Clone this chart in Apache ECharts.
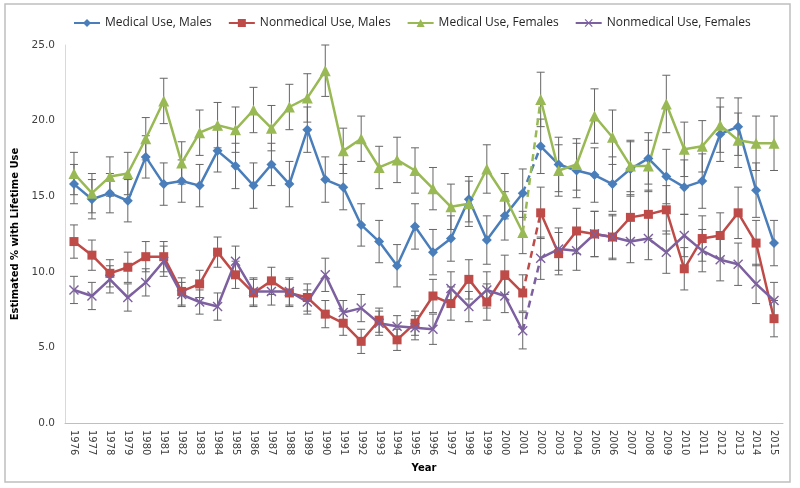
<!DOCTYPE html>
<html>
<head>
<meta charset="utf-8">
<script src="https://cdn.jsdelivr.net/npm/echarts@6/dist/echarts.min.js"></script>
<style>
html,body{margin:0;padding:0;background:#fff;}
#block1{width:800px;height:488px;}
</style>
</head>
<body>
<div id="block1"></div>
<script>
//categories
var years = ['1976','1977','1978','1979','1980','1981','1982','1983','1984','1985',
  '1986','1987','1988','1989','1990','1991','1992','1993','1994','1995',
  '1996','1997','1998','1999','2000','2001','2002','2003','2004','2005',
  '2006','2007','2008','2009','2010','2011','2012','2013','2014','2015'];

//values
var medMales = [15.8,14.8,15.2,14.7,17.6,15.8,16.0,15.7,18.0,17.0,
  15.7,17.1,15.8,19.4,16.1,15.6,13.1,12.0,10.4,13.0,
  11.3,12.2,14.8,12.1,13.7,15.2,18.3,17.1,16.7,16.4,
  15.8,16.8,17.5,16.3,15.6,16.0,19.1,19.6,15.4,11.9];
var nonMedMales = [12.0,11.1,9.9,10.3,11.0,11.0,8.7,9.2,11.3,9.8,
  8.6,9.4,8.6,8.3,7.2,6.6,5.4,6.8,5.5,6.6,
  8.4,7.9,9.5,8.0,9.8,8.6,13.9,11.2,12.7,12.5,
  12.3,13.6,13.8,14.1,10.2,12.2,12.4,13.9,11.9,6.9];
var medFemales = [16.5,15.2,16.3,16.5,18.8,21.3,17.2,19.2,19.7,19.4,
  20.7,19.5,20.9,21.5,23.3,18.0,18.8,16.9,17.4,16.7,
  15.5,14.3,14.5,16.8,15.0,12.6,21.4,16.7,17.1,20.3,
  18.9,17.0,17.0,21.1,18.1,18.3,19.7,18.7,18.5,18.5];
var nonMedFemales = [8.8,8.4,9.5,8.3,9.3,10.7,8.5,8.0,7.7,10.7,
  8.7,8.7,8.7,8.0,9.8,7.3,7.6,6.6,6.4,6.3,
  6.2,8.9,7.7,8.8,8.4,6.1,10.9,11.5,11.4,12.5,
  12.3,12.0,12.2,11.3,12.4,11.4,10.8,10.5,9.2,8.1];

//error bar half widths
var medMalesErr = [1.3,1.3,1.3,1.4,1.4,1.4,1.4,1.4,1.4,1.5,
  1.5,1.4,1.5,1.5,1.5,1.5,1.4,1.4,1.4,1.5,
  1.5,1.5,1.5,1.6,1.6,1.6,1.8,1.8,1.8,1.8,
  1.8,1.8,1.7,1.8,1.8,1.8,1.8,1.9,1.8,1.5];
var nonMedMalesErr = [1.1,1.0,0.9,1.0,1.0,1.0,0.9,0.9,1.0,0.9,
  0.9,0.9,0.9,0.9,0.9,0.8,0.8,0.8,0.7,0.8,
  1.1,1.1,1.3,1.2,1.3,1.2,1.7,1.4,1.5,1.5,
  1.5,1.5,1.6,1.6,1.4,1.5,1.5,1.7,1.5,1.2];
var medFemalesErr = [1.4,1.3,1.3,1.4,1.4,1.5,1.4,1.5,1.5,1.5,
  1.5,1.5,1.5,1.6,1.7,1.5,1.5,1.4,1.5,1.5,
  1.4,1.5,1.5,1.6,1.5,1.4,1.8,1.7,1.7,1.8,
  1.8,1.7,1.7,1.9,1.8,1.7,1.8,1.8,1.8,1.8];
var nonMedFemalesErr = [0.9,0.9,0.9,0.9,0.9,1.0,0.8,0.8,0.9,1.0,
  0.9,0.9,0.9,0.8,1.1,0.8,0.9,0.8,0.7,0.8,
  1.0,1.1,1.0,1.2,1.1,1.2,1.4,1.4,1.3,1.5,
  1.4,1.4,1.4,1.4,1.4,1.4,1.4,1.4,1.3,1.2];

var yTicks = [0, 5, 10, 15, 20, 25];

var BREAK = 25; // 2001 index, dashed link to 2002

var xMark = 'path://M0,1 L1,0 L5,4 L9,0 L10,1 L6,5 L10,9 L9,10 L5,6 L1,10 L0,9 L4,5 Z';

var groups = [
  {name:'Medical Use, Males', color:'#4A7EBB', symbol:'diamond', size:10, values:medMales, err:medMalesErr},
  {name:'Nonmedical Use, Males', color:'#BE4B48', symbol:'rect', size:9, values:nonMedMales, err:nonMedMalesErr},
  {name:'Medical Use, Females', color:'#98B954', symbol:'triangle', size:11, values:medFemales, err:medFemalesErr},
  {name:'Nonmedical Use, Females', color:'#7D60A0', symbol:xMark, size:10, values:nonMedFemales, err:nonMedFemalesErr}
];

var series = [];
var errSeries = [];
groups.forEach(function (g) {
  errSeries.push({
    name: g.name + ' err',
    type: 'custom',
    z: 1,
    silent: true,
    data: g.values.map(function (v, i) { return [i, v - g.err[i], v + g.err[i]]; }),
    renderItem: function (params, api) {
      var x = api.value(0);
      var lo = api.coord([x, api.value(1)]);
      var hi = api.coord([x, api.value(2)]);
      var c = 4;
      var st = {stroke:'#666', lineWidth:1};
      return {type:'group', children:[
        {type:'line', shape:{x1:lo[0], y1:lo[1], x2:hi[0], y2:hi[1]}, style:st},
        {type:'line', shape:{x1:lo[0]-c, y1:lo[1], x2:lo[0]+c, y2:lo[1]}, style:st},
        {type:'line', shape:{x1:hi[0]-c, y1:hi[1], x2:hi[0]+c, y2:hi[1]}, style:st}
      ]};
    }
  });
  var base = {
    type:'line', symbol:g.symbol, symbolSize:g.size, z:3,
    itemStyle:{color:g.color},
    lineStyle:{color:g.color, width:2.5},
    emphasis:{disabled:true}
  };
  series.push(Object.assign({}, base, {
    name: g.name,
    data: g.values.map(function (v, i) { return i <= BREAK ? v : '-'; })
  }));
  series.push(Object.assign({}, base, {
    name: g.name + ' ',
    data: g.values.map(function (v, i) { return i > BREAK ? v : '-'; })
  }));
  series.push({
    name: g.name + ' link', type:'line', z:2, showSymbol:false,
    lineStyle:{color:g.color, width:2.5, type:[7,5]},
    data: g.values.map(function (v, i) { return (i === BREAK || i === BREAK + 1) ? v : '-'; })
  });
});

var option1 = {
  animation:false,
  textStyle:{fontFamily:'DejaVu Sans'},
  legend:{
    data: groups.map(function (g) { return g.name; }),
    left: 68, top: 12, itemGap: 16, itemWidth: 26, itemHeight: 10,
    textStyle:{fontFamily:'Open Sans', fontSize:12, color:'#262626'}
  },
  grid:{left:65, right:17, top:45, bottom:65, containLabel:false},
  xAxis:{
    type:'category', data:years, boundaryGap:true,
    name:'Year', nameLocation:'middle', nameGap:37,
    nameTextStyle:{fontWeight:'bold', fontSize:10, color:'#000'},
    axisLine:{lineStyle:{color:'#bfbfbf'}},
    axisTick:{show:false},
    axisLabel:{rotate:-90, fontSize:10, color:'#404040', margin:7, interval:0}
  },
  yAxis:{
    type:'value', min:yTicks[0], max:yTicks[yTicks.length-1], interval:5,
    name:'Estimated % with Lifetime Use', nameLocation:'middle', nameGap:44,
    nameTextStyle:{fontWeight:'bold', fontSize:10, color:'#000'},
    axisLine:{show:true, lineStyle:{color:'#d9d9d9'}},
    axisTick:{show:false},
    splitLine:{show:false},
    axisLabel:{fontSize:10.5, color:'#404040', margin:10, formatter:function (v) { return v.toFixed(1); }}
  },
  graphic:[{type:'rect', shape:{x:5, y:4, width:785, height:478}, style:{fill:null, stroke:'#bfbfbf', lineWidth:1.5}, silent:true}],
  series: errSeries.concat(series)
};

var myChart1 = echarts.init(document.getElementById('block1'));
myChart1.setOption(option1);
</script>
</body>
</html>
